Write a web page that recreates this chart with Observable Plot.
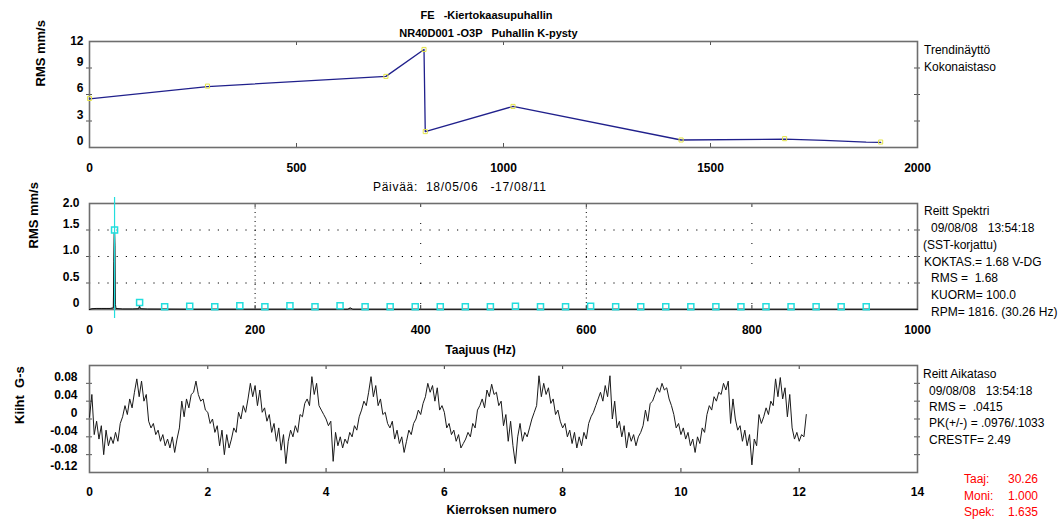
<!DOCTYPE html>
<html><head><meta charset="utf-8">
<script src="https://cdn.jsdelivr.net/npm/d3@7"></script>
<script src="https://cdn.jsdelivr.net/npm/@observablehq/plot@0.6"></script>
<style>
body{margin:0;background:#fff;}
#root{position:relative;width:1064px;height:520px;overflow:hidden;font-family:"Liberation Sans",Arial,sans-serif;background:#fff;}
.t{position:absolute;white-space:pre;font-size:12px;line-height:14px;color:#000;}
.r{color:#ff0000;}
</style></head><body><div id="root"></div>
<script>
// ---------- DATA ----------
const titleLines = ["FE   -Kiertokaasupuhallin", "NR40D001 -O3P   Puhallin K-pysty"];
const dateRange = "Päivää:  18/05/06   -17/08/11";

// Trend (overall level)
const trendCycles = [0, 285, 716, 808, 811, 1023, 1429, 1679, 1775, 1876, 1911];
const trendRms    = [5.5, 6.9, 8.05, 11.1, 1.8, 4.65, 0.85, 0.95, 0.8, 0.6, 0.58];
const trendPointCycles = [0, 285, 716, 808, 811, 1023, 1429, 1679, 1911];
const trendPointRms    = [5.55, 6.95, 8.05, 11.1, 1.8, 4.65, 0.85, 1.0, 0.62];
const trendXTicks = [0, 500, 1000, 1500, 2000];
const trendYTicks = [0, 3, 6, 9, 12];
const trendNotes = ["Trendinäyttö", "Kokonaistaso"];

// Spectrum
const specHz  = [0, 3, 8, 14, 20, 25, 28.8, 29.4, 29.9, 30.4, 30.8, 31.3, 32, 40, 52, 59.5, 60.5, 61.5, 70, 120, 200, 312, 315, 318, 400, 600, 800, 1000];
const specRms = [0, 0.015, 0.02, 0.02, 0.02, 0.02, 0.03, 0.9, 1.45, 1.45, 1.2, 0.1, 0.02, 0.01, 0.01, 0.015, 0.07, 0.015, 0.008, 0.005, 0.005, 0.005, 0.03, 0.005, 0.004, 0.004, 0.004, 0.004];
const harmonicHz  = [30.26, 60.52, 90.78, 121.04, 151.30, 181.56, 211.82, 242.08, 272.34, 302.60, 332.86, 363.12, 393.38, 423.64, 453.90, 484.16, 514.42, 544.68, 574.94, 605.20, 635.46, 665.72, 695.98, 726.24, 756.50, 786.76, 817.02, 847.28, 877.54, 907.80, 938.06];
const harmonicRms = [1.5, 0.13, 0.05, 0.06, 0.05, 0.07, 0.05, 0.07, 0.05, 0.07, 0.05, 0.05, 0.05, 0.05, 0.05, 0.05, 0.06, 0.05, 0.05, 0.06, 0.05, 0.05, 0.05, 0.05, 0.05, 0.05, 0.05, 0.05, 0.05, 0.05, 0.05];
const runSpeedHz = 30.26;
const specXTicks = [0, 200, 400, 600, 800, 1000];
const specYTicks = [0, 0.5, 1.0, 1.5, 2.0];
const specNotes = [["Reitt Spektri", 924], ["09/08/08   13:54:18", 931], ["(SST-korjattu)", 923], ["KOKTAS.= 1.68 V-DG", 924], ["RMS =  1.68", 931], ["KUORM= 100.0", 931], ["RPM= 1816. (30.26 Hz)", 931]];

// Waveform (G-s), sampled every 0.04 revolutions
const wfStep = 0.04;
const wfG = [
 0.004, 0.055, -0.035, -0.005, -0.045, -0.015, -0.080, -0.025, -0.060, -0.040, -0.055, -0.030, -0.050, -0.010, 0.005, 0.030, 0.010, 0.045, 0.025, 0.060, 0.090, 0.050, 0.085, 0.040, 0.055,
 -0.005, -0.020, -0.010, -0.035, -0.025, -0.050, -0.035, -0.060, -0.045, -0.065, -0.040, -0.075, -0.045, -0.020, 0.040, 0.005, 0.045, 0.025, 0.055, 0.060, 0.085, 0.055, 0.040, 0.045, 0.020,
 0.015, -0.010, 0.000, -0.030, -0.015, -0.060, -0.025, -0.080, -0.035, -0.065, -0.045, -0.020, -0.030, 0.015, 0.000, 0.030, 0.015, 0.045, 0.080, 0.050, 0.075, 0.030, 0.065, 0.015, 0.025,
 -0.005, 0.010, -0.030, -0.010, -0.050, -0.020, -0.070, -0.035, -0.100, -0.050, -0.025, -0.040, -0.015, -0.030, 0.010, 0.005, 0.035, 0.045, 0.030, 0.095, 0.055, 0.080, 0.030, 0.020, 0.010,
 0.000, -0.015, -0.005, -0.095, -0.030, -0.060, -0.040, -0.065, -0.045, -0.055, -0.030, -0.040, -0.015, -0.025, 0.005, 0.020, 0.040, 0.030, 0.060, 0.095, 0.050, 0.075, 0.030, 0.045, 0.010,
 0.015, -0.010, -0.020, -0.005, -0.045, -0.025, -0.055, -0.040, -0.075, -0.050, -0.025, -0.035, -0.010, 0.000, 0.020, 0.010, 0.035, 0.050, 0.080, 0.060, 0.075, 0.040, 0.070, 0.020, 0.030,
 0.015, -0.020, -0.010, -0.035, -0.025, -0.050, -0.035, -0.065, -0.055, -0.045, -0.030, -0.040, -0.010, -0.020, 0.020, 0.030, 0.045, 0.025, 0.065, 0.050, 0.078, 0.055, 0.060, 0.030, 0.040,
 -0.015, 0.010, -0.050, -0.005, -0.060, -0.100, -0.040, -0.010, -0.050, -0.030, -0.040, -0.020, 0.000, 0.015, 0.030, 0.097, 0.050, 0.080, 0.055, 0.070, 0.035, 0.045, 0.010, 0.020, -0.005,
 -0.020, -0.010, -0.040, -0.025, -0.055, -0.030, -0.065, -0.040, -0.060, -0.030, -0.045, -0.010, 0.005, 0.015, 0.030, 0.045, 0.060, 0.040, 0.075, 0.050, 0.097, 0.000, 0.040, -0.020, -0.005,
 -0.040, -0.015, -0.065, -0.030, -0.050, -0.035, -0.060, -0.040, -0.030, -0.015, 0.020, -0.005, 0.035, 0.040, 0.055, 0.070, 0.060, 0.080, 0.065, 0.070, 0.045, 0.030, 0.010, -0.020, -0.010,
 -0.035, -0.020, -0.045, -0.030, -0.060, -0.045, -0.075, -0.040, -0.055, -0.020, -0.030, 0.010, 0.030, 0.020, 0.050, 0.040, 0.060, 0.055, 0.080, 0.065, 0.085, -0.010, 0.045, 0.000, -0.025,
 -0.015, -0.050, -0.025, -0.060, -0.035, -0.103, -0.045, -0.060, 0.010, -0.010, 0.005, 0.025, 0.010, 0.040, 0.030, 0.090, 0.050, 0.093, 0.045, 0.070, 0.005, 0.055, -0.020, -0.045, -0.030,
 -0.050, -0.035, -0.040, 0.010
];
const wfXTicks = [0, 2, 4, 6, 8, 10, 12, 14];
const wfYTicks = [0.08, 0.04, 0, -0.04, -0.08, -0.12];
const wfNotes = [["Reitt Aikataso", 923], ["09/08/08   13:54:18", 929], ["RMS =  .0415", 929], ["PK(+/-) = .0976/.1033", 929], ["CRESTF= 2.49", 929]];
const cursorLabels = ["Taaj:", "Moni:", "Spek:"];
const cursorValues = ["30.26", "1.000", "1.635"];

// ---------- LAYOUT ----------
const root = document.getElementById("root");
const W = 1064, ML = 89, MR = 147, FW = W - ML - MR;
const svgStyle = "position:absolute;left:0;background:transparent;overflow:visible;font-family:'Liberation Sans',Arial,sans-serif;font-size:12px;font-weight:bold;";
const frameStroke = "#6e6e6e";
function place(svg, top) { svg.setAttribute("style", svgStyle + "top:" + top + "px;"); root.appendChild(svg); }
function note(text, left, cy, cls) {
  const d = document.createElement("div");
  d.className = "t" + (cls ? " " + cls : "");
  d.textContent = text;
  d.style.left = left + "px";
  d.style.top = (cy - 6.7) + "px";
  root.appendChild(d);
  return d;
}
const intFmt = d => String(d);

// ---------- PANEL 1 : trend ----------
{
  const FH = 106;
  const line = trendCycles.map((c, i) => ({c, v: trendRms[i]}));
  const pts = trendPointCycles.map((c, i) => ({c, v: trendPointRms[i]}));
  const svg = Plot.plot({
    width: W, height: 185, marginLeft: ML, marginRight: MR, marginTop: 41, marginBottom: 38,
    x: {domain: [0, 2000]}, y: {domain: [0, 12]},
    marks: [
      Plot.ruleX([500, 1000, 1500], {stroke: "#555", insetBottom: FH - 4}),
      Plot.ruleX([500, 1000, 1500], {stroke: "#555", insetTop: FH - 4}),
      Plot.ruleY([3, 6, 9], {stroke: "#555", insetLeft: -3, insetRight: FW - 3}),
      Plot.ruleY([3, 6, 9], {stroke: "#555", insetLeft: FW - 3, insetRight: -3}),
      Plot.frame({stroke: frameStroke, strokeWidth: 1.6}),
      Plot.line(line, {x: "c", y: "v", stroke: "#20208c", strokeWidth: 1.3}),
      Plot.dot(pts, {x: "c", y: "v", symbol: "square", r: 2.3, stroke: "#e4e448", fill: "none", strokeWidth: 1}),
      Plot.axisX({ticks: trendXTicks, tickSize: 0, tickPadding: 16, tickFormat: intFmt, label: null}),
      Plot.axisY({ticks: trendYTicks.filter(d => d !== 12), tickSize: 0, tickPadding: 6, tickFormat: intFmt, label: null, dy: -6}),
      Plot.axisY({ticks: [12], tickSize: 0, tickPadding: 6, tickFormat: intFmt, label: null}),
      Plot.text(["RMS mm/s"], {text: d => d, frameAnchor: "left", lineAnchor: "middle", dx: -49, dy: -8, rotate: -90, fontSize: 13}),
      Plot.text([titleLines[0]], {text: d => d, frameAnchor: "top", lineAnchor: "middle", dx: -17, dy: -26, fontSize: 11}),
      Plot.text([titleLines[1]], {text: d => d, frameAnchor: "top", lineAnchor: "middle", dx: -15, dy: -8, fontSize: 11})
    ]
  });
  place(svg, 0);
  const dr = note(dateRange, 0, 187);
  dr.style.letterSpacing = "0.7px";
  dr.style.left = (460 - dr.offsetWidth / 2) + "px";
  note(trendNotes[0], 924, 50);
  note(trendNotes[1], 924, 66.5);
}

// ---------- PANEL 2 : spectrum ----------
{
  const FH = 106;
  const spec = specHz.map((f, i) => ({f, a: specRms[i]}));
  const harm = harmonicHz.map((f, i) => ({f, a: harmonicRms[i]}));
  const svg = Plot.plot({
    width: W, height: 175, marginLeft: ML, marginRight: MR, marginTop: 18, marginBottom: 51,
    x: {domain: [0, 1000]}, y: {domain: [0, 2]},
    marks: [
      Plot.ruleY([0.5, 1.0, 1.5], {stroke: "#000", strokeWidth: 1, strokeDasharray: "1.2,8"}),
      Plot.ruleX([200, 600], {stroke: "#000", strokeWidth: 1, strokeDasharray: "1,3.5"}),
      Plot.ruleX([400, 800], {stroke: "#000", strokeWidth: 1, strokeDasharray: "1,19"}),
      Plot.ruleX([200, 400, 600, 800], {stroke: "#333", insetBottom: FH - 4}),
      Plot.ruleX([200, 400, 600, 800], {stroke: "#333", insetTop: FH - 4}),
      Plot.ruleY([0.5, 1.0, 1.5], {stroke: "#555", insetLeft: -3, insetRight: FW}),
      Plot.ruleY([0.5, 1.0, 1.5], {stroke: "#555", insetLeft: FW - 3, insetRight: -3}),
      Plot.frame({stroke: frameStroke, strokeWidth: 1.6}),
      Plot.areaY(spec, {x: "f", y: "a", fill: "#8c8c8c"}),
      Plot.line(spec, {x: "f", y: "a", stroke: "#111", strokeWidth: 1}),
      Plot.ruleX([runSpeedHz], {stroke: "#22dede", strokeWidth: 1.2, insetTop: -6, insetBottom: -9}),
      Plot.dot(harm, {x: "f", y: "a", symbol: "square", r: 3.4, stroke: "#22dede", fill: "none", strokeWidth: 1.5}),
      Plot.axisX({ticks: specXTicks, tickSize: 0, tickPadding: 16, tickFormat: intFmt, label: null}),
      Plot.axisY({ticks: specYTicks.filter(d => d !== 2), tickSize: 0, tickPadding: 10, tickFormat: d => d === 0 ? "0" : d.toFixed(1), label: null, dy: -6}),
      Plot.axisY({ticks: [2], tickSize: 0, tickPadding: 10, tickFormat: d => d.toFixed(1), label: null}),
      Plot.text(["RMS mm/s"], {text: d => d, frameAnchor: "left", lineAnchor: "middle", dx: -56, dy: -8, rotate: -90, fontSize: 13}),
      Plot.text(["Taajuus (Hz)"], {text: d => d, frameAnchor: "bottom", lineAnchor: "middle", dx: -23, dy: 41, fontSize: 12})
    ]
  });
  place(svg, 185);
  const ys = [211, 228, 245, 262, 278, 295, 312];
  specNotes.forEach(([t, x], i) => note(t, x, ys[i]));
}

// ---------- PANEL 3 : waveform ----------
{
  const FH = 107;
  const wf = wfG.map((g, i) => ({r: i * wfStep, g}));
  const svg = Plot.plot({
    width: W, height: 160, marginLeft: ML, marginRight: MR, marginTop: 5, marginBottom: 48,
    x: {domain: [0, 14]}, y: {domain: [-0.12, 0.12]},
    marks: [
      Plot.ruleX([2, 4, 6, 8, 10, 12], {stroke: "#333", insetBottom: FH - 4}),
      Plot.ruleX([2, 4, 6, 8, 10, 12], {stroke: "#333", insetTop: FH - 4}),
      Plot.ruleY([0.08, 0.04, 0, -0.04, -0.08], {stroke: "#555", insetLeft: -3, insetRight: FW - 3}),
      Plot.ruleY([0.08, 0.04, 0, -0.04, -0.08], {stroke: "#555", insetLeft: FW - 3, insetRight: -3}),
      Plot.frame({stroke: frameStroke, strokeWidth: 1.6}),
      Plot.line(wf, {x: "r", y: "g", stroke: "#1a1a1a", strokeWidth: 1}),
      Plot.axisX({ticks: wfXTicks, tickSize: 0, tickPadding: 15, tickFormat: intFmt, label: null}),
      Plot.axisY({ticks: wfYTicks, tickSize: 0, tickPadding: 12, tickFormat: d => d === 0 ? "0" : d.toFixed(2), label: null, dy: -6}),
      Plot.text(["Kiiht  G-s"], {text: d => d, frameAnchor: "left", lineAnchor: "middle", dx: -70, dy: 5, rotate: -90, fontSize: 13}),
      Plot.text(["Kierroksen numero"], {text: d => d, frameAnchor: "bottom", lineAnchor: "middle", dx: -2, dy: 38, fontSize: 12})
    ]
  });
  place(svg, 360);
  const ys = [374, 390.5, 406.5, 423, 440];
  wfNotes.forEach(([t, x], i) => note(t, x, ys[i]));
  const rys = [478.5, 495.5, 512];
  cursorLabels.forEach((t, i) => note(t, 964, rys[i], "r"));
  cursorValues.forEach((t, i) => {
    const d = note(t, 0, rys[i], "r");
    d.style.left = (1038 - d.offsetWidth) + "px";
  });
}
</script></body></html>
